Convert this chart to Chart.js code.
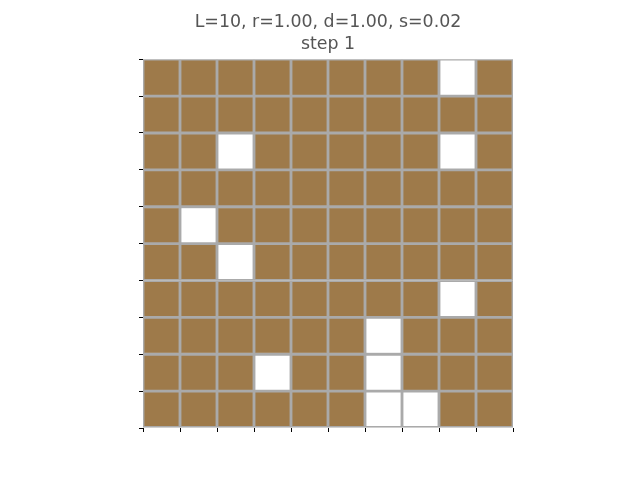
<!DOCTYPE html>
<html>
<head>
<meta charset="utf-8">
<script src="https://cdn.jsdelivr.net/npm/chart.js@4/dist/chart.umd.min.js"></script>
<style>
html,body{margin:0;padding:0;background:#fff;}
#wrap{width:640px;height:480px;}
</style>
</head>
<body>
<div id="wrap"><canvas id="c" width="640" height="480"></canvas></div>
<script>
// Grid state, listed from top row to bottom row: 1 = occupied (brown), 0 = empty (white)
const columns = ['0','1','2','3','4','5','6','7','8','9'];
const row0 = [1,1,1,1,1,1,1,1,0,1];
const row1 = [1,1,1,1,1,1,1,1,1,1];
const row2 = [1,1,0,1,1,1,1,1,0,1];
const row3 = [1,1,1,1,1,1,1,1,1,1];
const row4 = [1,0,1,1,1,1,1,1,1,1];
const row5 = [1,1,0,1,1,1,1,1,1,1];
const row6 = [1,1,1,1,1,1,1,1,0,1];
const row7 = [1,1,1,1,1,1,0,1,1,1];
const row8 = [1,1,1,0,1,1,0,1,1,1];
const row9 = [1,1,1,1,1,1,0,0,1,1];
const titleLines = ['L=10, r=1.00, d=1.00, s=0.02', 'step 1'];

const rowsTopDown = [row0,row1,row2,row3,row4,row5,row6,row7,row8,row9];
const OCC = '#9e7a4a', EMPTY = '#ffffff', EDGE = '#aaaaaa';

// stacked from the bottom row upward
const datasets = rowsTopDown.slice().reverse().map((r, i) => ({
  label: 'row ' + (9 - i),
  data: r.map(() => 1),
  backgroundColor: r.map(v => v ? OCC : EMPTY),
  borderColor: EDGE,
  borderWidth: 1.75,
  borderSkipped: false,
  barPercentage: 1,
  categoryPercentage: 1
}));

new Chart(document.getElementById('c'), {
  type: 'bar',
  data: { labels: columns, datasets },
  options: {
    responsive: false,
    animation: false,
    devicePixelRatio: 1,
    layout: { padding: { left: 135, right: 119, top: 0, bottom: 44 } },
    plugins: {
      legend: { display: false },
      tooltip: { enabled: false },
      title: {
        display: true,
        text: titleLines,
        color: '#555555',
        font: { family: 'DejaVu Sans', size: 17.4, weight: 'normal', lineHeight: 1.27 },
        padding: { top: 11, bottom: 4 }
      }
    },
    scales: {
      x: {
        stacked: true,
        offset: true,
        border: { display: false },
        grid: { offset: true, drawOnChartArea: false, drawTicks: true, tickLength: 4, color: '#000', lineWidth: 1 },
        ticks: { display: false },
        afterFit: s => { s.height = 8; }
      },
      y: {
        stacked: true,
        min: 0, max: 10,
        border: { display: false },
        grid: { drawOnChartArea: false, drawTicks: true, tickLength: 4, color: '#000', lineWidth: 1 },
        ticks: { display: false, stepSize: 1 },
        afterFit: s => { s.width = 8; }
      },
      y2: {
        position: 'right',
        display: true,
        min: 0, max: 10,
        border: { display: false },
        grid: { display: false },
        ticks: { display: false },
        afterFit: s => { s.width = 8; }
      }
    }
  }
});
</script>
</body>
</html>
